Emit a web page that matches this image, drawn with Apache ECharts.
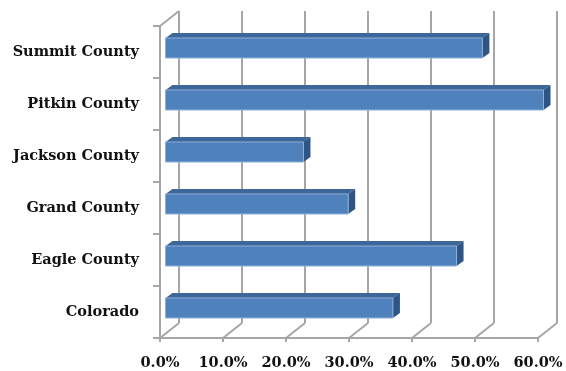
<!DOCTYPE html>
<html>
<head>
<meta charset="utf-8">
<script src="https://cdn.jsdelivr.net/npm/echarts@6/dist/echarts.min.js"></script>
<style>
  html, body { margin: 0; padding: 0; background: #ffffff; }
  #chart { width: 566px; height: 371px; }
</style>
</head>
<body>
<div id="chart"></div>
<script>
// Categories, top to bottom
const categories = ['Summit County', 'Pitkin County', 'Jackson County', 'Grand County', 'Eagle County', 'Colorado'];
// Share per category (fraction)
const values = [0.503, 0.600, 0.219, 0.290, 0.462, 0.361];
// Value-axis ticks
const tickValues = [0, 0.1, 0.2, 0.3, 0.4, 0.5, 0.6];

// Oblique depth of the plot box (back wall offset) and of each bar
const WALL_DX = 19, WALL_DY = -15;
const BAR_OX = 5.5, BAR_OY = -4;     // where the bar's front face sits in depth
const BAR_DX = 7, BAR_DY = -5;       // thickness of the bar
const BAR_H = 20;
const GRID_COLOR = '#a6a6a6';
const FONT = '"DejaVu Serif", serif';

const chart = echarts.init(document.getElementById('chart'), null, { renderer: 'canvas' });

function renderWall(params, api) {
  const cs = params.coordSys;
  const v = api.value(0);
  const x = api.coord([v, 0])[0];
  const top = cs.y, bottom = cs.y + cs.height;
  const children = [
    { type: 'line', shape: { x1: x + WALL_DX, y1: top + WALL_DY, x2: x + WALL_DX, y2: bottom + WALL_DY },
      style: { stroke: GRID_COLOR, lineWidth: 2 } },
    { type: 'line', shape: { x1: x, y1: bottom, x2: x + WALL_DX, y2: bottom + WALL_DY },
      style: { stroke: GRID_COLOR, lineWidth: 2 } }
  ];
  if (params.dataIndex === 0) {
    children.push({ type: 'line', shape: { x1: x, y1: top, x2: x + WALL_DX, y2: top + WALL_DY },
      style: { stroke: GRID_COLOR, lineWidth: 2 } });
  }
  return { type: 'group', children: children };
}

function renderBar(params, api) {
  const cat = api.value(1);
  const p0 = api.coord([0, cat]);
  const p1 = api.coord([api.value(0), cat]);
  const x0 = p0[0] + BAR_OX, x1 = p1[0] + BAR_OX;
  const yc = p0[1] + BAR_OY;
  const yT = yc - BAR_H / 2, yB = yc + BAR_H / 2;
  return {
    type: 'group',
    children: [
      { type: 'polygon',
        shape: { points: [[x0, yT], [x1, yT], [x1 + BAR_DX, yT + BAR_DY], [x0 + BAR_DX, yT + BAR_DY]] },
        style: { fill: '#3d6699' } },
      { type: 'polygon',
        shape: { points: [[x1, yT], [x1 + BAR_DX, yT + BAR_DY], [x1 + BAR_DX, yB + BAR_DY], [x1, yB]] },
        style: { fill: '#2f5585' } },
      { type: 'rect',
        shape: { x: x0, y: yT, width: x1 - x0, height: BAR_H },
        style: { fill: '#4f81bd', stroke: '#8fb0d8', lineWidth: 1 } }
    ]
  };
}

const option = {
  animation: false,
  grid: { left: 160, top: 26, width: 378, height: 313, containLabel: false },
  xAxis: {
    type: 'value',
    min: 0, max: 0.6, interval: 0.1,
    axisLine: { show: true, lineStyle: { color: GRID_COLOR, width: 2 } },
    axisTick: { show: true, length: 4, lineStyle: { color: GRID_COLOR, width: 2 } },
    splitLine: { show: false },
    axisLabel: {
      margin: 18,
      color: '#111',
      fontFamily: FONT,
      fontWeight: 'bold',
      fontSize: 14.5,
      formatter: v => (v * 100).toFixed(1) + '%'
    }
  },
  yAxis: {
    type: 'category',
    data: categories,
    inverse: true,
    axisLine: { show: true, lineStyle: { color: GRID_COLOR, width: 2 } },
    axisTick: { show: true, length: 7, lineStyle: { color: GRID_COLOR, width: 2 } },
    splitLine: { show: false },
    axisLabel: {
      margin: 21,
      color: '#111',
      fontFamily: FONT,
      fontWeight: 'bold',
      fontSize: 14.5
    }
  },
  series: [
    {
      type: 'custom',
      name: 'wall',
      z: 1,
      silent: true,
      renderItem: renderWall,
      data: tickValues.map(v => [v, 0])
    },
    {
      type: 'custom',
      name: 'share',
      z: 3,
      renderItem: renderBar,
      encode: { x: 0, y: 1 },
      data: values.map((v, i) => [v, i])
    }
  ]
};

chart.setOption(option);
</script>
</body>
</html>
